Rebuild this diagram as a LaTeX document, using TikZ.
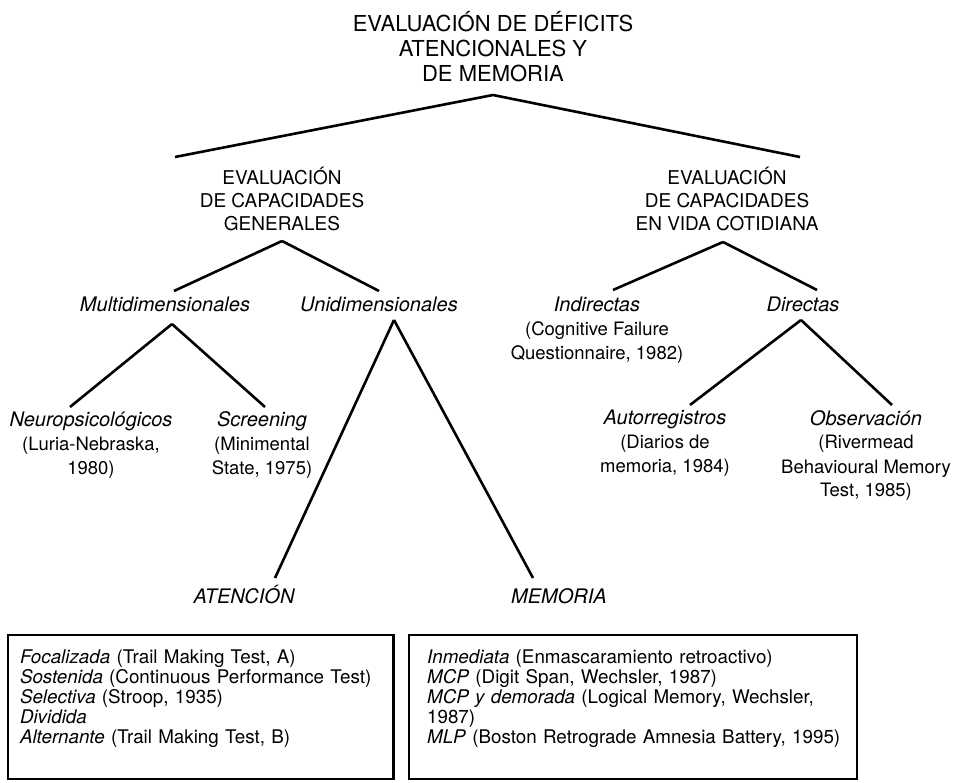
\documentclass[tikz,border=0pt]{standalone}
\usepackage{fontspec}
\setmainfont{TeX Gyre Heros}

\newcommand{\etiq}[1]{{\fontsize{20}{24}\selectfont\itshape #1}}

\begin{document}
\begin{tikzpicture}[
    x=1pt, y=-1pt,
    every node/.style={align=center, inner sep=0pt},
    titulo principal/.style={font=\fontsize{22}{25}\selectfont, anchor=base},
    titulo rama/.style={font=\fontsize{19}{23}\selectfont, anchor=base},
    etiqueta/.style={font=\fontsize{18.5}{24}\selectfont, anchor=base},
    rama/.style={draw=black, line width=2.6pt},                 % lineas del arbol
    caja/.style={draw=black, line width=2.4pt, anchor=north west, align=left,
        font=\fontsize{18.8}{20}\selectfont, text height=15pt, text depth=103.2pt,
        inner ysep=12.8pt}
]
\useasboundingbox (0,0) rectangle (962,783);

% ---- Raíz (base = ultima linea) ----
\node[titulo principal] (raiz) at (493,82) {EVALUACIÓN DE DÉFICITS\\ATENCIONALES Y\\DE MEMORIA};

% ---- Segundo nivel ----
\node[titulo rama] (generales) at (282,231) {EVALUACIÓN\\DE CAPACIDADES\\GENERALES};
\node[titulo rama] (cotidiana) at (727,231) {EVALUACIÓN\\DE CAPACIDADES\\EN VIDA COTIDIANA};

\draw[rama] ([shift={(0,13)}]raiz.base) -- ([shift={(-107,-74)}]generales.base);
\draw[rama] ([shift={(0,13)}]raiz.base) -- ([shift={(73,-74)}]cotidiana.base);

% ---- Tercer nivel ----
\node[etiqueta] (multi) at (165,312) {\etiq{Multidimensionales}};
\node[etiqueta] (uni) at (379,312) {\etiq{Unidimensionales}};
\node[etiqueta] (indirectas) at (597,360) {\etiq{Indirectas}\\(Cognitive Failure\\Questionnaire, 1982)};
\node[etiqueta] (directas) at (803,312) {\etiq{Directas}};

\draw[rama] ([shift={(0,10)}]generales.base) -- ([shift={(9,-21)}]multi.base);
\draw[rama] ([shift={(0,10)}]generales.base) -- ([shift={(0,-21)}]uni.base);
\draw[rama] ([shift={(-4,11)}]cotidiana.base) -- ([shift={(16,-70)}]indirectas.base);
\draw[rama] ([shift={(-4,11)}]cotidiana.base) -- ([shift={(14,-22)}]directas.base);

% ---- Cuarto nivel ----
\node[etiqueta] (neuro) at (91,475) {\etiq{Neuropsicológicos}\\(Luria-Nebraska,\\1980)};
\node[etiqueta] (screening) at (262,475) {\etiq{Screening}\\(Minimental\\State, 1975)};
\node[etiqueta] (autorreg) at (665,473) {\etiq{Autorregistros}\\(Diarios de\\memoria, 1984)};
\node[etiqueta] (observ) at (866,497) {\etiq{Observación}\\(Rivermead\\Behavioural Memory\\Test, 1985)};

\draw[rama] ([shift={(7,12)}]multi.base) -- ([shift={(-21,-68)}]neuro.base);
\draw[rama] ([shift={(7,12)}]multi.base) -- ([shift={(3,-68)}]screening.base);
\draw[rama] ([shift={(-2,8)}]directas.base) -- ([shift={(25,-68)}]autorreg.base);
\draw[rama] ([shift={(-2,8)}]directas.base) -- ([shift={(26,-92)}]observ.base);

% ---- Atención y memoria ----
\node[etiqueta] (atencion) at (244,603) {\etiq{ATENCIÓN}};
\node[etiqueta] (memoria) at (559,603) {\etiq{MEMORIA}};

\draw[rama] ([shift={(15,8)}]uni.base) -- ([shift={(31,-25)}]atencion.base);
\draw[rama] ([shift={(15,8)}]uni.base) -- ([shift={(-26,-25)}]memoria.base);

% ---- Cajas de pruebas ----
\node[caja, text width=361.7pt, inner xsep=11.8pt] (cajaAtencion) at (7,634) {%
    \textit{Focalizada} (Trail Making Test, A)\\
    \textit{Sostenida} (Continuous Performance Test)\\
    \textit{Selectiva} (Stroop, 1935)\\
    \textit{Dividida}\\
    \textit{Alternante} (Trail Making Test, B)};
\node[caja, text width=412pt, inner xsep=17.9pt] (cajaMemoria) at (408,634) {%
    \textit{Inmediata} (Enmascaramiento retroactivo)\\
    \textit{MCP} (Digit Span, Wechsler, 1987)\\
    \textit{MCP y demorada} (Logical Memory, Wechsler,\\
    1987)\\
    \mbox{\textit{MLP} (Boston Retrograde Amnesia Battery, 1995)}};

\end{tikzpicture}
\end{document}
